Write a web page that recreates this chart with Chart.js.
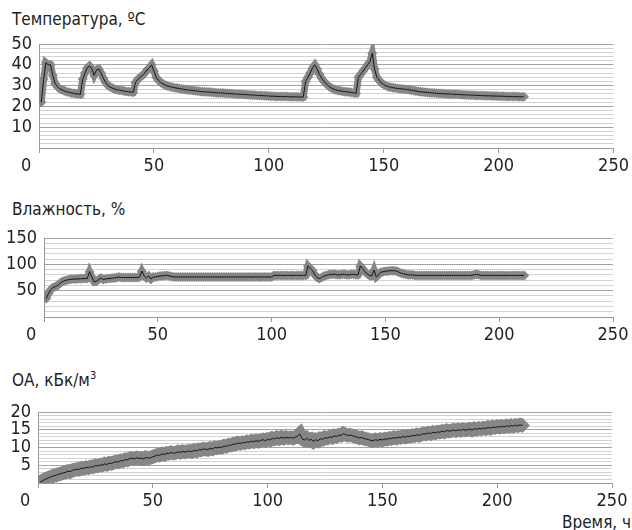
<!DOCTYPE html>
<html>
<head>
<meta charset="utf-8">
<title>Температура, влажность, ОА</title>
<script src="https://cdn.jsdelivr.net/npm/chart.js"></script>
<style>
  body { margin: 0; background: #fff; }
  #wrap { position: relative; width: 632px; height: 530px; overflow: hidden; }
  #wrap canvas { position: absolute; left: 0; top: 0; }
  .ttl { position: absolute; font-family: 'Liberation Sans Narrow', 'DejaVu Sans Condensed', sans-serif; font-size: 17px; color: #222; white-space: nowrap; }
  .ttl sup { font-size: 11px; }
</style>
</head>
<body>
<div id="wrap">
  <div class="ttl" style="left:12px; top:9px;">Температура, ºС</div>
  <div class="ttl" style="left:12px; top:199px;">Влажность, %</div>
  <div class="ttl" style="left:12px; top:369px;">ОА, кБк/м<sup>3</sup></div>
  <div class="ttl" style="left:562px; top:512px;">Время, ч</div>
  <canvas id="c1" width="632" height="530"></canvas>
  <canvas id="c2" width="632" height="530"></canvas>
  <canvas id="c3" width="632" height="530"></canvas>
</div>

<script>
    // hourly readings, first one at hour 1
    var firstHour = 1;

    var temperature = [
        22, 33, 41, 40, 40, 35, 31, 29.5, 28.5, 28,
        27.5, 27, 26.8, 26.5, 26.3, 26.1, 26, 25.8, 33, 36,
        38.5, 39.5, 38, 35, 37.5, 38, 36, 33.5, 31.5, 30,
        29.3, 28.8, 28.3, 28, 27.8, 27.6, 27.4, 27.2, 27, 26.9,
        26.8, 31.5, 33, 34, 34.8, 36, 37.5, 38.5, 40, 37,
        34, 32.5, 31.5, 30.8, 30.2, 29.8, 29.5, 29.2, 29, 28.8,
        28.6, 28.4, 28.2, 28, 27.9, 27.8, 27.7, 27.5, 27.4, 27.2,
        27.1, 27, 26.9, 26.9, 26.8, 26.7, 26.6, 26.5, 26.5, 26.4,
        26.3, 26.2, 26.2, 26.1, 26, 25.9, 25.9, 25.8, 25.7, 25.7,
        25.6, 25.5, 25.5, 25.4, 25.3, 25.3, 25.2, 25.1, 25.1, 25,
        24.9, 24.9, 24.8, 24.8, 24.8, 24.7, 24.7, 24.7, 24.6, 24.6,
        24.6, 24.6, 24.5, 24.5, 24.5, 32, 34, 36, 38.5, 40,
        38, 35.5, 33.5, 32, 30.8, 29.8, 29, 28.4, 28, 27.7,
        27.5, 27.3, 27.1, 27, 26.8, 26.7, 26.5, 26.3, 34, 35.5,
        37, 38.5, 40, 41.5, 45.5, 38, 34, 32.5, 31.3, 30.5,
        29.9, 29.5, 29.2, 29, 28.8, 28.6, 28.5, 28.4, 28.3, 28.1,
        28, 27.8, 27.6, 27.4, 27.2, 27, 26.9, 26.8, 26.7, 26.6,
        26.5, 26.4, 26.3, 26.2, 26.2, 26.1, 26, 26, 25.9, 25.9,
        25.8, 25.8, 25.7, 25.6, 25.6, 25.5, 25.5, 25.4, 25.4, 25.3,
        25.3, 25.2, 25.2, 25.1, 25.1, 25.1, 25, 25, 25, 24.9,
        24.9, 24.9, 24.8, 24.8, 24.8, 24.7, 24.7, 24.7, 24.6, 24.6,
        24.6
    ];

    var humidity = [
        35, 45, 52, 56, 58, 60, 64, 67, 69, 70,
        71, 71.5, 72, 72, 72.5, 72.5, 73, 73, 73, 86,
        76, 67, 68, 71, 74, 71, 72, 73, 73, 74,
        74, 75, 76, 75, 75, 75, 75, 75, 75, 75,
        75, 76, 87, 78, 74, 78, 72, 76, 76, 77,
        78, 78, 79, 79, 78, 77, 76, 76, 76, 76,
        76, 76, 76, 76, 76, 76, 76, 76, 76, 76,
        76, 76, 76, 76, 76, 76, 76, 76, 76, 76,
        76, 76, 76, 76, 76, 76, 76, 76, 76, 76,
        76, 76, 76, 76, 76, 76, 76, 76, 76, 76,
        79, 79, 79, 79, 79, 79, 79, 79, 79, 79,
        79, 79, 79, 79, 79, 97, 92, 88, 80, 75,
        73, 75, 78, 79, 80, 81, 81, 81, 80, 80,
        81, 81, 80, 80, 81, 81, 80, 80, 97, 92,
        86, 82, 79, 78, 89, 76, 80, 85, 86, 87,
        87, 88, 88, 88, 87, 85, 83, 82, 81, 80,
        80, 80, 79, 79, 79, 79, 79, 79, 79, 79,
        79, 79, 79, 79, 79, 79, 79, 79, 79, 79,
        79, 79, 79, 79, 79, 79, 79, 79, 80, 81,
        80, 79, 79, 79, 79, 79, 79, 79, 79, 79,
        79, 79, 79, 79, 79, 79, 79, 79, 79, 79,
        79
    ];

    var activity = [
        0.3, 0.6, 1.0, 1.3, 1.6, 1.8, 2.1, 2.2, 2.5, 2.6,
        2.9, 3.0, 3.3, 3.2, 3.6, 3.7, 3.9, 3.8, 4.2, 4.1,
        4.4, 4.3, 4.6, 4.5, 4.9, 4.8, 5.1, 5.0, 5.4, 5.2,
        5.6, 5.5, 5.8, 6.0, 5.9, 6.3, 6.2, 6.6, 6.5, 6.9,
        7.0, 6.8, 7.1, 6.9, 7.0, 6.8, 7.2, 7.0, 7.1, 7.4,
        7.6, 7.9, 7.8, 8.2, 8.0, 8.4, 8.3, 8.6, 8.4, 8.5,
        8.8, 8.6, 8.9, 8.7, 8.9, 9.0, 8.8, 9.2, 9.0, 9.4,
        9.3, 9.6, 9.5, 9.4, 9.8, 9.6, 10.0, 9.9, 10.1, 10.0,
        10.4, 10.3, 10.7, 10.6, 11.0, 10.9, 11.3, 11.1, 11.4, 11.3,
        11.6, 11.5, 11.8, 11.6, 11.9, 11.7, 12.0, 12.2, 11.9, 12.3,
        12.1, 12.6, 12.4, 12.8, 12.5, 12.9, 12.6, 12.9, 12.7, 12.8,
        12.6, 12.9, 13.2, 13.8, 12.5, 12.1, 12.6, 12.0, 12.3, 11.7,
        12.2, 11.9, 12.5, 12.3, 12.8, 12.6, 13.0, 12.8, 13.3, 13.1,
        13.5, 13.4, 13.9, 13.6, 13.4, 13.5, 13.3, 13.1, 12.9, 12.7,
        12.8, 12.5, 12.4, 12.2, 12.0, 11.9, 12.2, 12.0, 12.3, 12.1,
        12.4, 12.3, 12.6, 12.5, 12.8, 12.6, 12.9, 12.8, 13.1, 12.9,
        13.2, 13.1, 13.4, 13.3, 13.6, 13.4, 13.7, 13.9, 13.8, 14.1,
        13.9, 14.3, 14.1, 14.4, 14.3, 14.6, 14.4, 14.8, 14.6, 14.7,
        14.9, 14.7, 15.0, 14.8, 15.1, 14.9, 15.0, 15.2, 14.9, 15.3,
        15.1, 15.4, 15.2, 15.5, 15.3, 15.7, 15.4, 15.8, 15.6, 15.9,
        15.7, 16.0, 15.8, 16.1, 15.9, 16.2, 16.0, 16.3, 16.1, 16.4,
        16.2
    ];

    var xTicks = [0, 50, 100, 150, 200, 250];

    Chart.defaults.font.family = "'Liberation Sans Narrow', 'DejaVu Sans Condensed', sans-serif";
    Chart.defaults.font.size = 18;
    Chart.defaults.color = '#222';

    var bandColor = '#868686';
    var majorGrid = '#a3a3a3';
    var minorGrid = '#d2d2d2';

    function toPoints(values) {
        return values.map(function (v, i) { return { x: firstHour + i, y: v }; });
    }

    function makePanel(canvasId, values, box, yMax, yMinor, yMajor, bandWidth, markerSize) {
        var ctx = document.getElementById(canvasId).getContext('2d');
        var pts = toPoints(values);
        return new Chart(ctx, {
            type: 'line',
            data: {
                datasets: [{
                    // thin black line on top
                    data: pts,
                    borderColor: '#151515',
                    borderWidth: 1,
                    pointRadius: 0,
                    tension: 0
                }, {
                    // grey marker band underneath
                    data: pts,
                    borderColor: bandColor,
                    borderWidth: bandWidth,
                    pointStyle: 'rectRot',
                    pointRadius: markerSize,
                    pointBackgroundColor: bandColor,
                    pointBorderWidth: 0,
                    tension: 0
                }]
            },
            options: {
                responsive: false,
                animation: false,
                devicePixelRatio: 1,
                events: [],
                layout: {
                    padding: { left: 0, top: box.top, right: 632 - box.right, bottom: 530 - box.bottom - 30 }
                },
                plugins: { legend: { display: false }, tooltip: { enabled: false } },
                scales: {
                    x: {
                        type: 'linear',
                        min: 0,
                        max: 250,
                        afterBuildTicks: function (scale) {
                            scale.ticks = xTicks.map(function (v) { return { value: v }; });
                        },
                        afterFit: function (scale) { scale.height = 30; },
                        grid: { drawOnChartArea: false, drawTicks: true, tickLength: 5, color: '#999' },
                        border: { color: '#999' },
                        ticks: {
                            padding: 3,
                            maxRotation: 0,
                            autoSkip: false,
                            // the first label sits left of the axis, as in the original
                            callback: function (v) { return v === 0 ? '0     ' : v; }
                        }
                    },
                    y: {
                        min: 0,
                        max: yMax,
                        afterFit: function (scale) { scale.width = box.left; },
                        grid: {
                            drawTicks: false,
                            color: function (c) {
                                return c.tick && c.tick.value % yMajor === 0 ? majorGrid : minorGrid;
                            }
                        },
                        border: { color: '#999' },
                        ticks: {
                            stepSize: yMinor,
                            padding: 7,
                            autoSkip: false,
                            callback: function (v) {
                                return (v % yMajor === 0 && v !== 0) ? v : '';
                            }
                        }
                    }
                }
            }
        });
    }

    makePanel('c1', temperature, { left: 39, right: 617, top: 44, bottom: 148 }, 50, 2, 10, 7, 5);
    makePanel('c2', humidity, { left: 44, right: 613, top: 238, bottom: 317 }, 150, 10, 50, 7, 5);
    makePanel('c3', activity, { left: 38, right: 612, top: 412, bottom: 483 }, 20, 1, 5, 13, 7.5);
</script>
</body>
</html>
